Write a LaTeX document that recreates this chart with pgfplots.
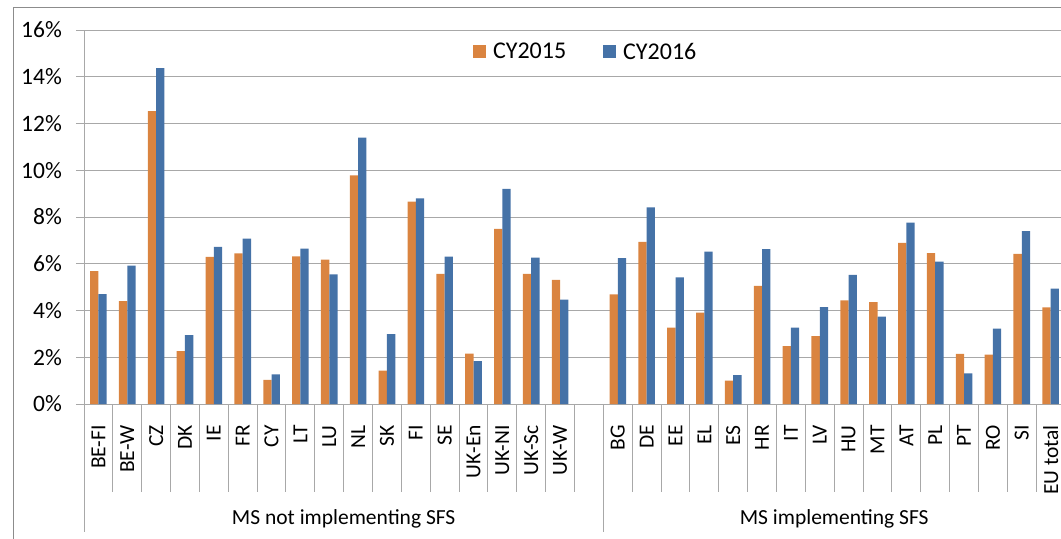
\documentclass[border=0pt]{standalone}
\usepackage{fontspec}
\setmainfont{Carlito}
\usepackage{pgfplots}
\pgfplotsset{compat=1.18}
\definecolor{cyA}{HTML}{DA8440}
\definecolor{cyB}{HTML}{4572A7}
\definecolor{gridc}{HTML}{A8A8A8}
\definecolor{framec}{HTML}{8C8C8C}
\begin{document}
\begin{tikzpicture}
\path[use as bounding box] (0bp,0bp) rectangle (1061bp,-539bp);
\clip (0bp,0bp) rectangle (1061bp,-539bp);
\draw[framec, line width=1.2bp] (13.3bp,-7.3bp) rectangle (1100bp,-600bp);
\begin{axis}[
  at={(84bp,-404bp)}, anchor=south west,
  scale only axis, width=977bp, height=374bp,
  xmin=-0.5, xmax=33.36, ymin=0, ymax=16,
  clip=false,
  ybar=0pt, bar width=8.3bp,
  axis x line*=bottom, axis y line*=left,
  axis line style={draw=gridc, line width=1bp},
  ymajorgrids, grid style={draw=gridc, line width=1bp},
  ytick={0,2,...,16},
  yticklabels={0\%,2\%,4\%,6\%,8\%,10\%,12\%,14\%,16\%},
  tick align=outside, major tick length=8bp,
  ytick style={draw=gridc, line width=1bp},
  xtick style={draw=none},
  xtick={0,1,2,3,4,5,6,7,8,9,10,11,12,13,14,15,16,18,19,20,21,22,23,24,25,26,27,28,29,30,31,32,33},
  xticklabels={BE-FI,BE-W,CZ,DK,IE,FR,CY,LT,LU,NL,SK,FI,SE,UK-En,UK-NI,UK-Sc,UK-W,BG,DE,EE,EL,ES,HR,IT,LV,HU,MT,AT,PL,PT,RO,SI,EU total},
  yticklabel style={anchor=east, inner sep=0pt, xshift=-14bp, font=\fontsize{23.5bp}{27bp}\selectfont},
  xticklabel style={rotate=90, anchor=east, inner sep=0pt, font=\fontsize{21.5bp}{25bp}\selectfont},
  xticklabel shift=13bp,
  legend columns=2,
  legend style={at={(0.398,0.942)}, anchor=west, draw=none, fill=none, inner sep=0pt,
    font=\fontsize{24bp}{28bp}\selectfont,
    nodes={inner sep=0pt},
    /tikz/every odd column/.append style={column sep=7bp},
    /tikz/every even column/.append style={column sep=37bp}},
  legend image code/.code={\fill[#1] (0bp,-6.5bp) rectangle (13bp,6.5bp);},
]
\addplot[fill=cyA, draw=none] coordinates {
(0,5.69) (1,4.40) (2,12.53) (3,2.26) (4,6.29) (5,6.44) (6,1.03) (7,6.32) (8,6.18)
(9,9.78) (10,1.43) (11,8.66) (12,5.57) (13,2.16) (14,7.49) (15,5.57) (16,5.31)
(18,4.69) (19,6.94) (20,3.27) (21,3.91) (22,1.00) (23,5.05) (24,2.48) (25,2.90)
(26,4.43) (27,4.36) (28,6.89) (29,6.45) (30,2.15) (31,2.11) (32,6.42) (33,4.13)};
\addplot[fill=cyB, draw=none] coordinates {
(0,4.70) (1,5.92) (2,14.37) (3,2.95) (4,6.72) (5,7.08) (6,1.27) (7,6.65) (8,5.55)
(9,11.40) (10,2.99) (11,8.80) (12,6.30) (13,1.83) (14,9.20) (15,6.26) (16,4.47)
(18,6.24) (19,8.41) (20,5.42) (21,6.52) (22,1.24) (23,6.63) (24,3.27) (25,4.14)
(26,5.52) (27,3.74) (28,7.76) (29,6.09) (30,1.31) (31,3.23) (32,7.40) (33,4.94)};
\legend{CY2015,CY2016}
% category separators
\pgfplotsinvokeforeach{0.5,1.5,2.5,3.5,4.5,5.5,6.5,7.5,8.5,9.5,10.5,11.5,12.5,13.5,14.5,15.5,16.5,18.5,19.5,20.5,21.5,22.5,23.5,24.5,25.5,26.5,27.5,28.5,29.5,30.5,31.5,32.5}{
  \draw[gridc, line width=1bp] (axis cs:#1,0) -- ++(0bp,-88bp);
}
\pgfplotsinvokeforeach{-0.5,17.5,33.5}{
  \draw[gridc, line width=1bp] (axis cs:#1,0) -- ++(0bp,-128bp);
}
\node[font=\fontsize{21.5bp}{25bp}\selectfont, anchor=center, yshift=-115bp] at (axis cs:8.5,0) {MS not implementing SFS};
\node[font=\fontsize{21.5bp}{25bp}\selectfont, anchor=center, yshift=-115bp] at (axis cs:25.5,0) {MS implementing SFS};
\end{axis}
\end{tikzpicture}
\end{document}
